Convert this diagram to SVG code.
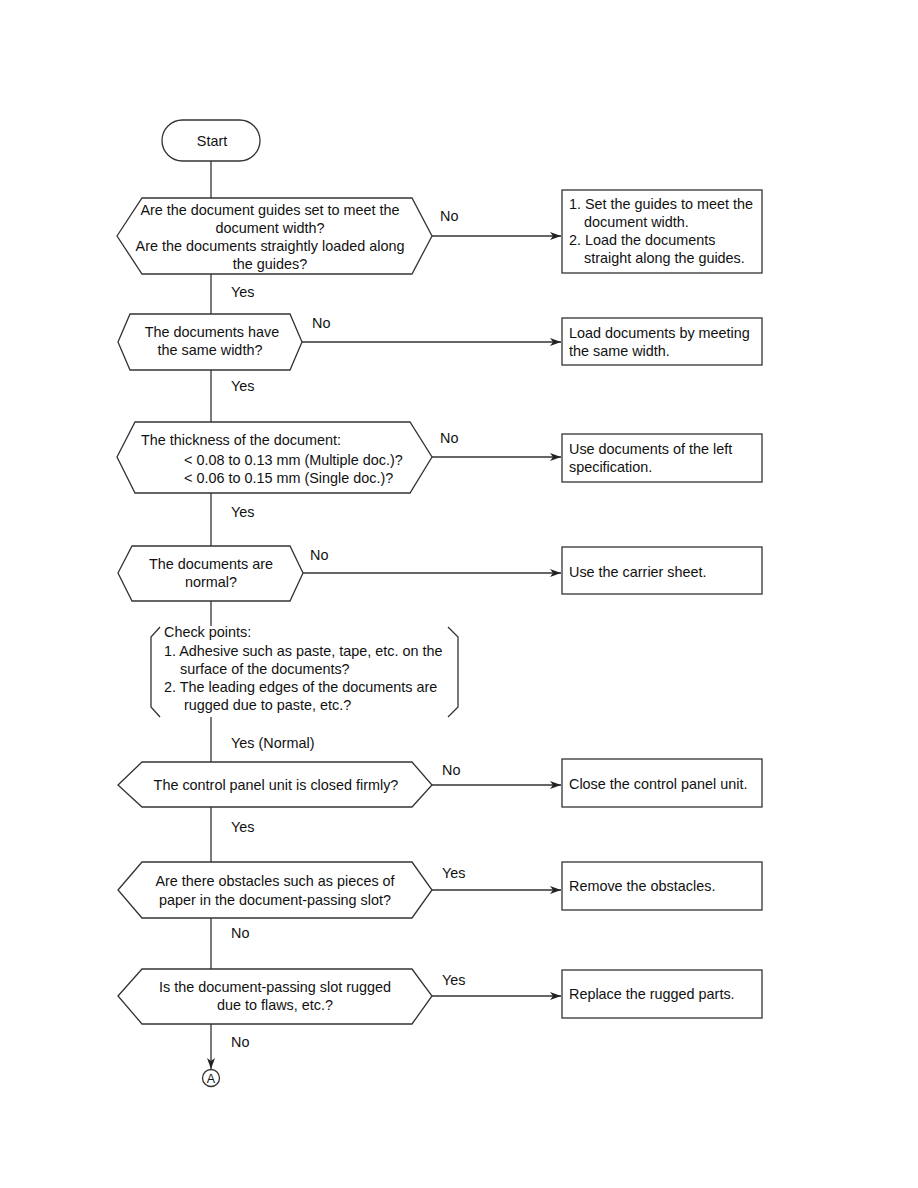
<svg xmlns="http://www.w3.org/2000/svg" width="918" height="1188" viewBox="0 0 918 1188">
<defs>
<marker id="arr" markerWidth="12" markerHeight="10" refX="11" refY="5" orient="auto" markerUnits="userSpaceOnUse">
<path d="M0,1 L11,5 L0,9 L3,5 z" fill="#222"/>
</marker>
<style>
.s{fill:#fff;stroke:#333;stroke-width:1.3}
.c{fill:none;stroke:#333;stroke-width:1.3}
text{font-family:"Liberation Sans",Arial,sans-serif;font-size:14.4px;fill:#111}
.m{text-anchor:middle}
</style>
</defs>
<rect width="918" height="1188" fill="#fff"/>
<g id="connectors">
<path class="c" d="M211,161 V198"/>
<path class="c" d="M432,236 H561" marker-end="url(#arr)"/>
<path class="c" d="M211,274 V314"/>
<path class="c" d="M302,342 H561" marker-end="url(#arr)"/>
<path class="c" d="M211,370 V422"/>
<path class="c" d="M432,457 H561" marker-end="url(#arr)"/>
<path class="c" d="M211,493 V546"/>
<path class="c" d="M303,573 H561" marker-end="url(#arr)"/>
<path class="c" d="M211,601 V626"/>
<path class="c" d="M211,717 V762"/>
<path class="c" d="M432,785 H561" marker-end="url(#arr)"/>
<path class="c" d="M211,807 V862"/>
<path class="c" d="M432,890 H561" marker-end="url(#arr)"/>
<path class="c" d="M211,918 V969"/>
<path class="c" d="M432,996 H561" marker-end="url(#arr)"/>
<path class="c" d="M211,1024 V1069" marker-end="url(#arr)"/>
<text x="440" y="221">No</text>
<text x="231" y="297">Yes</text>
<text x="312" y="328">No</text>
<text x="231" y="391">Yes</text>
<text x="440" y="443">No</text>
<text x="231" y="517">Yes</text>
<text x="310" y="560">No</text>
<text x="231" y="748">Yes (Normal)</text>
<text x="442" y="775">No</text>
<text x="231" y="832">Yes</text>
<text x="442" y="878">Yes</text>
<text x="231" y="938">No</text>
<text x="442" y="985">Yes</text>
<text x="231" y="1047">No</text>
</g>
<g id="start">
<rect class="s" x="162" y="120" width="98" height="41" rx="20.5"/>
<text class="m" x="212" y="146">Start</text>
</g>
<g id="d1">
<path class="s" d="M117,236 L142,198 H412 L432,236 L412,274 H142 Z"/>
<text class="m" x="270" y="215">Are the document guides set to meet the</text>
<text class="m" x="270" y="233">document width?</text>
<text class="m" x="270" y="251">Are the documents straightly loaded along</text>
<text class="m" x="270" y="269">the guides?</text>
</g>
<g id="b1">
<rect class="s" x="562" y="190" width="200" height="83"/>
<text x="569" y="209">1. Set the guides to meet the</text>
<text x="584" y="227">document width.</text>
<text x="569" y="245">2. Load the documents</text>
<text x="584" y="263">straight along the guides.</text>
</g>
<g id="d2">
<path class="s" d="M118,342 L130,314 H290 L302,342 L290,370 H130 Z"/>
<text class="m" x="212" y="337">The documents have</text>
<text class="m" x="210" y="355">the same width?</text>
</g>
<g id="b2">
<rect class="s" x="562" y="318" width="200" height="47"/>
<text x="569" y="338">Load documents by meeting</text>
<text x="569" y="356">the same width.</text>
</g>
<g id="d3">
<path class="s" d="M117,457 L135,422 H410 L432,457 L410,493 H135 Z"/>
<text x="141" y="445">The thickness of the document:</text>
<text x="184" y="465">&lt; 0.08 to 0.13 mm (Multiple doc.)?</text>
<text x="184" y="483">&lt; 0.06 to 0.15 mm (Single doc.)?</text>
</g>
<g id="b3">
<rect class="s" x="562" y="434" width="200" height="48"/>
<text x="569" y="454">Use documents of the left</text>
<text x="569" y="472">specification.</text>
</g>
<g id="d4">
<path class="s" d="M118,573 L132,546 H290 L303,573 L290,601 H132 Z"/>
<text class="m" x="211" y="569">The documents are</text>
<text class="m" x="211" y="587">normal?</text>
</g>
<g id="b4">
<rect class="s" x="562" y="547" width="200" height="47"/>
<text x="569" y="577">Use the carrier sheet.</text>
</g>
<g id="checkpoints">
<path class="c" d="M160,627 L151,637 V707 L160,717"/>
<path class="c" d="M448,627 L458,637 V707 L448,717"/>
<text x="164" y="637">Check points:</text>
<text x="164" y="656">1. Adhesive such as paste, tape, etc. on the</text>
<text x="180" y="674">surface of the documents?</text>
<text x="164" y="692">2. The leading edges of the documents are</text>
<text x="184" y="710">rugged due to paste, etc.?</text>
</g>
<g id="d5">
<path class="s" d="M118,785 L142,762 H412 L432,785 L412,807 H142 Z"/>
<text class="m" x="276" y="790">The control panel unit is closed firmly?</text>
</g>
<g id="b5">
<rect class="s" x="562" y="759" width="200" height="48"/>
<text x="569" y="789">Close the control panel unit.</text>
</g>
<g id="d6">
<path class="s" d="M118,890 L142,862 H412 L432,890 L412,918 H142 Z"/>
<text class="m" x="275" y="886">Are there obstacles such as pieces of</text>
<text class="m" x="275" y="905">paper in the document-passing slot?</text>
</g>
<g id="b6">
<rect class="s" x="562" y="862" width="200" height="48"/>
<text x="569" y="891">Remove the obstacles.</text>
</g>
<g id="d7">
<path class="s" d="M118,996 L142,969 H412 L432,996 L412,1024 H142 Z"/>
<text class="m" x="275" y="992">Is the document-passing slot rugged</text>
<text class="m" x="275" y="1010">due to flaws, etc.?</text>
</g>
<g id="b7">
<rect class="s" x="562" y="970" width="200" height="48"/>
<text x="569" y="999">Replace the rugged parts.</text>
</g>
<g id="connA">
<circle class="s" cx="211" cy="1078" r="8.5"/>
<text class="m" x="211" y="1083" style="font-size:12.5px">A</text>
</g>
</svg>
